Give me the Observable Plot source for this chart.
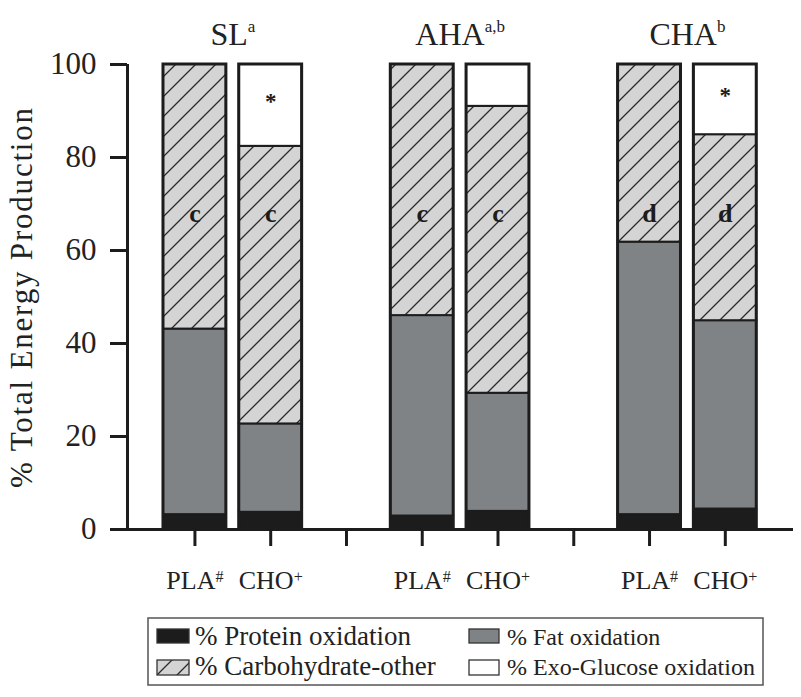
<!DOCTYPE html>
<html><head><meta charset="utf-8">
<script src="https://cdn.jsdelivr.net/npm/d3@7"></script>
<script src="https://cdn.jsdelivr.net/npm/@observablehq/plot@0.6"></script>
<style>
body{margin:0;background:#fff;font-family:'Liberation Serif','Times New Roman',serif;}
#wrap{position:relative;width:801px;height:697px;overflow:hidden;}
#wrap svg{display:block;}
</style></head><body>
<svg width="0" height="0" style="position:absolute">
<defs><pattern id="hatch" patternUnits="userSpaceOnUse" width="20" height="20">
<rect width="20" height="20" fill="#d4d4d4"/>
<path d="M-2,2L2,-2M0,20L20,0M18,22L22,18" stroke="#2a2a2a" stroke-width="1.3"/>
</pattern></defs></svg>
<div id="wrap"></div>
<script>
// ---- data ----
const groups = ["SL", "AHA", "CHA"];
const groupSup = ["a", "a,b", "b"];
const conditions = ["PLA", "CHO"];
const conditionSup = ["#", "+"];
const components = ["% Protein oxidation", "% Fat oxidation", "% Carbohydrate-other", "% Exo-Glucose oxidation"];
// bar order: SL-PLA, SL-CHO, AHA-PLA, AHA-CHO, CHA-PLA, CHA-CHO
const protein    = [3.2, 3.7, 2.9, 3.9, 3.2, 4.4];
const fat        = [39.9, 19.0, 43.1, 25.4, 58.6, 40.5];
const carbOther  = [56.9, 59.7, 54.0, 61.7, 38.2, 40.0];
const exoGlucose = [0, 17.6, 0, 9.0, 0, 15.1];
const carbLetters = ["c", "c", "c", "c", "d", "d"];
const exoMarks = ["", "*", "", "", "", "*"];
const yTicks = [0, 20, 40, 60, 80, 100];

// ---- build tables ----
const series = [protein, fat, carbOther, exoGlucose];
const bars = [];
const segments = [];
groups.forEach((g, gi) => conditions.forEach((c, ci) => {
  const i = gi * 2 + ci;
  const slot = gi * 3 + ci + 1;
  let cum = 0;
  series.forEach((s, k) => {
    const v = s[i];
    if (v > 0) segments.push({slot, component: components[k], y1: cum, y2: cum + v});
    cum += v;
  });
  bars.push({slot, group: g, cond: c, label: c + "^" + conditionSup[ci], total: cum,
    letter: carbLetters[i], mark: exoMarks[i], exoMid: cum - exoGlucose[i] / 2});
}));
const groupLabels = groups.map((g, gi) => ({slot: gi * 3 + 1.5, label: g + "^" + groupSup[gi]}));

const half = 0.415;
const xDomain = [0.11, 8.9];
const W = 801, H = 612;
const serif = "'Liberation Serif', 'Times New Roman', serif";
const ink = "#1c1c1c";

const plot = Plot.plot({
  width: W, height: H,
  marginLeft: 127, marginRight: 8, marginTop: 64, marginBottom: H - 529,
  x: {type: "linear", domain: xDomain, axis: null},
  y: {domain: [0, 100], axis: null},
  color: {domain: components, range: [ink, "#808385", "url(#hatch)", "#ffffff"]},
  style: {fontFamily: serif, color: ink, background: "white", overflow: "visible"},
  marks: [
    Plot.rect(segments, {x1: d => d.slot - half, x2: d => d.slot + half, y1: "y1", y2: "y2",
      fill: "component", stroke: ink, strokeWidth: 2}),
    Plot.rect(bars, {x1: d => d.slot - half, x2: d => d.slot + half, y1: 0, y2: "total",
      fill: "none", stroke: ink, strokeWidth: 3}),
    Plot.text(bars, {x: "slot", y: () => 68, text: "letter", fontSize: 26, fontWeight: "bold", fill: ink}),
    Plot.text(bars.filter(d => d.mark), {x: "slot", y: "exoMid", text: "mark", dy: -4, fontSize: 23, fontWeight: "bold", fill: ink}),
    Plot.ruleY([0], {x1: xDomain[0], x2: xDomain[1], stroke: ink, strokeWidth: 3}),
    Plot.ruleX([xDomain[0]], {y1: 0, y2: 100, stroke: ink, strokeWidth: 3}),
    Plot.axisY({ticks: yTicks, tickSize: 17, tickPadding: 14, fontSize: 31, strokeWidth: 3,
      label: null, anchor: "left", fill: "#222"}),
    Plot.axisX({ticks: d3.range(1, 9), tickSize: 17, tickFormat: () => "", strokeWidth: 3, label: null}),
    Plot.text(bars, {x: "slot", y: 0, text: "label", dy: 51, fontSize: 26, fill: "#222"}),
    Plot.text(groupLabels, {x: "slot", y: 100, text: "label", dy: -29.5, fontSize: 32, fill: "#222"}),
    Plot.text(["% Total Energy Production"], {frameAnchor: "left", dx: -105, rotate: -90,
      textAnchor: "middle", fontSize: 31, fill: "#222"})
  ]
});

// superscripts
d3.select(plot).selectAll("text").each(function() {
  const t = this.textContent;
  if (t.includes("^")) {
    const [main, sup] = t.split("^");
    const fs = parseFloat(this.parentNode.getAttribute("font-size") || this.getAttribute("font-size") || 24);
    this.textContent = main;
    d3.select(this).append("tspan")
      .attr("font-size", fs >= 28 ? 17 : 16)
      .attr("dy", fs >= 28 ? -13 : -7)
      .text(sup);
  }
  if (t === "% Total Energy Production") d3.select(this).style("letter-spacing", "1.8px");
});

document.getElementById("wrap").appendChild(plot);

// ---- legend ----
const leg = d3.select("#wrap").append("svg").attr("width", W).attr("height", 697 - H)
  .style("font-family", serif);
leg.append("rect").attr("x", 148).attr("y", 6).attr("width", 615).attr("height", 67)
  .attr("fill", "none").attr("stroke", "#555").attr("stroke-width", 1.5);
const legendItems = [
  {k: 0, col: 0, row: 0}, {k: 1, col: 1, row: 0},
  {k: 2, col: 0, row: 1}, {k: 3, col: 1, row: 1}
];
const colX = [[157, 32, 195, 27], [469, 30, 507, 24]];
const rowY = [[17, 14, 33], [48, 15, 63]];
const legFill = [ink, "#808385", "url(#hatch)", "#ffffff"];
legendItems.forEach(it => {
  const [sx, sw, tx, fs] = colX[it.col];
  const [sy, sh, ty] = rowY[it.row];
  leg.append("rect").attr("x", sx).attr("y", sy).attr("width", sw).attr("height", sh)
    .attr("fill", legFill[it.k]).attr("stroke", "#333").attr("stroke-width", 1.3);
  leg.append("text").attr("x", tx).attr("y", ty).attr("font-size", fs).attr("fill", "#222")
    .text(components[it.k]);
});
</script>
</body></html>
